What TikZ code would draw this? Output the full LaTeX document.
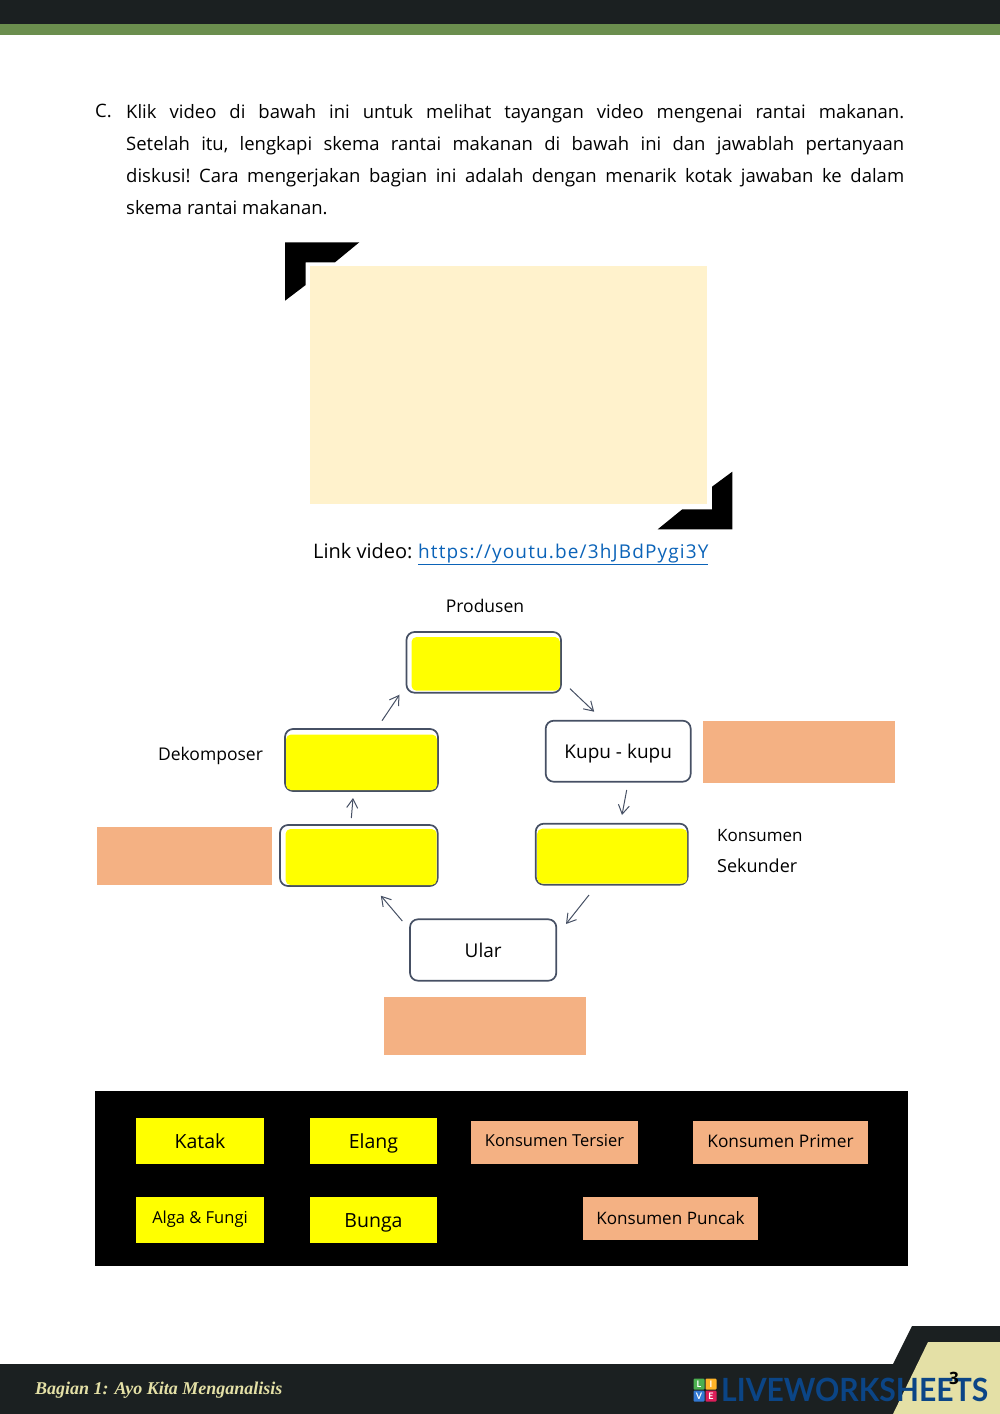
\documentclass[tikz,border=0pt]{standalone}
\usepackage{fontspec}
\setmainfont{Open Sans}
\newfontfamily\footfont{Liberation Serif}
\newfontfamily\logofont{Lato}
\newfontfamily\linkfont[LetterSpace=6]{Open Sans}
\usetikzlibrary{arrows.meta, calc}
\definecolor{barDark}{HTML}{1B2021}
\definecolor{barGreen}{HTML}{6B8E4E}
\definecolor{tabCream}{HTML}{E4E0A6}
\definecolor{peach}{HTML}{F4B183}
\definecolor{videoCream}{HTML}{FFF2CC}
\definecolor{slateLine}{HTML}{465064}
\definecolor{linkBlue}{HTML}{0B63B8}
\definecolor{logoBlue}{HTML}{0B4586}
\definecolor{pureYellow}{RGB}{255,255,0}
\definecolor{tileGreen}{RGB}{76,175,80}
\definecolor{tileOrange}{RGB}{255,180,40}
\definecolor{tileBlue}{RGB}{50,120,210}
\definecolor{tileRed}{RGB}{220,30,90}
\newcommand{\bodysize}{\fontsize{18.5}{32}\selectfont}
\tikzset{
  label text/.style={font=\fontsize{#1}{24}\selectfont, inner sep=0pt},
  label text/.default=17.5,
  chain box/.style={draw=slateLine, line width=1.7pt, rounded corners=8pt, fill=white,
    font=\fontsize{19}{24}\selectfont, text height=15pt, text depth=0pt, inner sep=0pt, outer sep=0pt},
  yellow fill/.style={fill=pureYellow, rounded corners=5pt},
  peach box/.style={fill=peach, inner sep=0pt, outer sep=0pt},
  answer box/.style={inner sep=0pt, outer sep=0pt, font=\fontsize{#1}{24}\selectfont,
    text height=14pt, text depth=0pt},
  answer box/.default=19.5,
  flow/.style={slateLine, line width=1pt, -{Straight Barb[length=9pt, width=11pt]}},
  logo tile/.style={minimum size=11pt, inner sep=0pt, rounded corners=1pt, text=white,
    font=\logofont\bfseries\fontsize{9}{9}\selectfont},
}
\begin{document}
\begin{tikzpicture}[x=1pt, y=-1pt]
  \useasboundingbox (0,0) rectangle (1000,1414);
  % header
  \fill[barDark] (0,0) rectangle (1000,24);
  \fill[barGreen] (0,24) rectangle (1000,35);
  \node[inner sep=0pt, font=\bodysize, anchor=base west] (mark) at (95,117) {C.};
  \node[inner sep=0pt, font=\bodysize, anchor=north west, text width=778pt, align=justify] (intro) at (126,104)
    {\frenchspacing Klik video di bawah ini untuk melihat tayangan video mengenai rantai makanan.\linebreak
     Setelah itu, lengkapi skema rantai makanan di bawah ini dan jawablah pertanyaan\linebreak
     diskusi! Cara mengerjakan bagian ini adalah dengan menarik kotak jawaban ke dalam\linebreak
     skema rantai makanan.};
  % video
  \fill[black] (285,242.3) -- (359.3,242.3) -- (335,262.3) -- (305.7,262.3) -- (305.7,285) -- (285,300.7) -- cycle;
  \fill[black] (732.3,471.7) -- (732.3,529.3) -- (657.7,529.3) -- (682.3,509.3) -- (712,509.3) -- (712,486.7) -- cycle;
  \fill[videoCream] (310,266) rectangle (707,504);
  \node[label text=20, anchor=base west] (link) at (313,558) {Link video:};
  \node[inner sep=0pt, anchor=base west, text=linkBlue, font=\linkfont\fontsize{19}{24}\selectfont] (url) at (418,558) {\underline{https://youtu.be/3hJBdPygi3Y}};
  % chain
  \node[label text] (produsen) at (485,606) {Produsen};
  \node[chain box, minimum width=154.5pt, minimum height=60.7pt] (prod) at (483.75,662.35) {};
  \node[chain box, minimum width=145pt, minimum height=61pt] (kupu) at (618.2,751.2) {Kupu - kupu};
  \node[chain box, minimum width=152pt, minimum height=61pt] (sek) at (611.7,854.2) {};
  \node[chain box, minimum width=146.3pt, minimum height=61.4pt] (ular) at (483.15,950) {Ular};
  \node[chain box, minimum width=157.7pt, minimum height=61pt] (dasar) at (358.85,855.5) {};
  \node[chain box, minimum width=153pt, minimum height=62pt] (dek) at (361.5,760) {};
  \fill[yellow fill] ([shift={(5,5)}]prod.north west) rectangle ([shift={(-1,-2)}]prod.south east);
  \fill[yellow fill] ([shift={(1,5.5)}]dek.north west) rectangle ([shift={(-1,-1)}]dek.south east);
  \fill[yellow fill] ([shift={(5.5,4)}]dasar.north west) rectangle ([shift={(-1,-1)}]dasar.south east);
  \fill[yellow fill] ([shift={(1.5,5)}]sek.north west) rectangle ([shift={(-0.5,-1)}]sek.south east);
  \draw[flow] ([shift={(9,-4)}]prod.south east) -- ([shift={(-24,-9)}]kupu.north);
  \draw[flow] ([shift={(8.5,8.3)}]kupu.south) -- ([shift={(10.3,-8.7)}]sek.north);
  \draw[flow] ([shift={(-22.7,10.3)}]sek.south) -- ([shift={(9.7,4.7)}]ular.north east);
  \draw[flow] ([shift={(-7.7,1.7)}]ular.north west) -- ([shift={(22,9.7)}]dasar.south);
  \draw[flow] ([shift={(-7.5,-7)}]dasar.north) -- ([shift={(-8.5,7)}]dek.south);
  \draw[flow] ([shift={(20.5,-8.3)}]dek.north) -- ([shift={(-7,2)}]prod.south west);
  \node[label text] (dekomposer) at (210.5,756) {Dekomposer};
  \node[label text=17, anchor=west] (konsumen) at (717,836) {Konsumen};
  \node[label text=18, anchor=west] (sekunder) at (717,866) {Sekunder};
  \node[peach box, minimum width=192pt, minimum height=62pt] (slotkupu) at (799,752) {};
  \node[peach box, minimum width=175pt, minimum height=58pt] (slotdasar) at (184.5,856) {};
  \node[peach box, minimum width=202pt, minimum height=58pt] (slotular) at (485,1026) {};
  % answers
  \fill[black] (95,1091) rectangle (908,1266);
  \node[answer box, fill=pureYellow, minimum width=128pt, minimum height=46pt] (katak) at (200,1141) {Katak};
  \node[answer box, fill=pureYellow, minimum width=127pt, minimum height=46pt] (elang) at (373.5,1141) {Elang};
  \node[answer box=16.5, text depth=8pt, fill=pureYellow, minimum width=128pt, minimum height=46pt] (alga) at (200,1220) {Alga \& Fungi};
  \node[answer box, fill=pureYellow, minimum width=127pt, minimum height=46pt] (bunga) at (373.5,1220) {Bunga};
  \node[answer box=16.5, text depth=6pt, fill=peach, minimum width=167pt, minimum height=43pt] (tersier) at (554.5,1142.5) {Konsumen Tersier};
  \node[answer box=17.3, text depth=4pt, fill=peach, minimum width=175pt, minimum height=43pt] (primer) at (780.5,1142.5) {Konsumen Primer};
  \node[answer box=17.1, text depth=3pt, fill=peach, minimum width=175pt, minimum height=43pt] (puncak) at (670.5,1218.5) {Konsumen Puncak};
  % footer
  \fill[barDark] (0,1364) -- (893,1364) -- (912,1326) -- (1000,1326) -- (1000,1414) -- (0,1414) -- cycle;
  \fill[tabCream] (928,1342) -- (1000,1342) -- (1000,1414) -- (893,1414) -- cycle;
  \node[anchor=base west, inner sep=0pt, text=tabCream, font=\footfont\bfseries\itshape\fontsize{18}{20}\selectfont] (bagian) at (35,1394) {Bagian 1: Ayo Kita Menganalisis};
  \node[logo tile, fill=tileGreen] (tileL) at (699,1384) {L};
  \node[logo tile, fill=tileOrange] (tileI) at (711,1384) {I};
  \node[logo tile, fill=tileBlue] (tileV) at (699,1396) {V};
  \node[logo tile, fill=tileRed] (tileE) at (711,1396) {E};
  \node[anchor=base west, inner sep=0pt, text=logoBlue, font=\logofont\bfseries\fontsize{32}{32}\selectfont] (logo) at (721,1401) {\scalebox{0.94}[1]{LIVEWORKSHEETS}};
  \node[inner sep=0pt, font=\bfseries\fontsize{17}{17}\selectfont] (page) at (954,1378) {3};
\end{tikzpicture}
\end{document}
